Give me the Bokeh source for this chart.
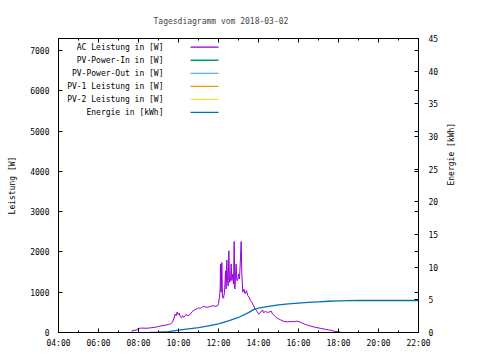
import math
import pandas as pd
from bokeh.plotting import figure
from bokeh.models import (Range1d, LinearAxis, FixedTicker, DatetimeTickFormatter,
                          Label, Title, DatetimeAxis, CustomJSTickFormatter)
from bokeh.embed import file_html
from bokeh.resources import INLINE

DAY = "2018-03-02"
TITLE = "Tagesdiagramm vom 2018-03-02"

power_times = ["07:40", "07:42", "07:55", "07:58", "08:10", "08:25", "08:40", "08:50",
               "09:00", "09:10", "09:20", "09:30", "09:36", "09:42", "09:46", "09:50",
               "09:53", "09:56", "09:59", "10:02", "10:05", "10:09", "10:12", "10:15",
               "10:19", "10:22", "10:28", "10:34", "10:40", "10:44", "10:50", "10:56",
               "11:00", "11:06", "11:12", "11:16", "11:22", "11:28", "11:34", "11:40",
               "11:46", "11:52", "11:58", "12:00", "12:03", "12:05", "12:06", "12:08",
               "12:10", "12:12", "12:15", "12:18", "12:21", "12:23", "12:25", "12:27",
               "12:29", "12:31", "12:33", "12:36", "12:38", "12:40", "12:43", "12:45",
               "12:47", "12:49", "12:51", "12:53", "12:55", "12:58", "13:00", "13:03",
               "13:06", "13:08", "13:10", "13:13", "13:16", "13:20", "13:24", "13:28",
               "13:32", "13:36", "13:40", "13:45", "13:50", "13:56", "14:00", "14:06",
               "14:12", "14:15", "14:21", "14:27", "14:33", "14:38", "14:42", "14:48",
               "14:54", "15:00", "15:06", "15:15", "15:25", "15:35", "15:45", "15:55",
               "16:03", "16:12", "16:20", "16:30", "16:40", "16:50", "17:05", "17:20",
               "17:30", "17:40", "17:50", "18:00", "18:05", "18:07"]
power_w = [0, 50, 60, 100, 110, 105, 120, 130,
           150, 165, 180, 200, 215, 255, 340, 460,
           420, 510, 445, 480, 400, 365, 420, 380,
           400, 445, 420, 440, 510, 540, 570, 590,
           610, 600, 640, 650, 630, 625, 645, 660,
           660, 650, 670, 720, 880, 1080, 1700, 1000,
           1740, 875, 850, 1000, 1530, 1080, 1800, 1290,
           1150, 2030, 1245, 1300, 1700, 1290, 1450, 1200,
           2260, 1080, 1400, 1700, 1290, 1300, 1455, 1330,
           1865, 2260, 1455, 1000, 1080, 960, 1040, 915,
           875, 790, 750, 670, 585, 520, 460, 495,
           560, 495, 520, 500, 510, 530, 460, 420,
           365, 340, 315, 280, 265, 270, 270, 280,
           265, 230, 200, 175, 150, 130, 105, 80,
           65, 50, 25, 20, 10, 0]

energy_times = ["08:35", "09:00", "09:30", "10:00", "10:30", "11:00", "11:30", "12:00",
                "12:30", "13:00", "13:30", "13:45", "14:00", "14:30", "15:00", "15:30",
                "16:00", "16:30", "17:00", "17:30", "18:00", "18:30", "19:00", "22:00"]
energy_kwh = [0.0, 0.05, 0.12, 0.35, 0.55, 0.75, 1.0, 1.32,
              1.78, 2.3, 3.05, 3.5, 3.72, 4.0, 4.22, 4.38,
              4.5, 4.62, 4.7, 4.78, 4.84, 4.88, 4.9, 4.9]

x_tick_labels = ["04:00", "06:00", "08:00", "10:00", "12:00", "14:00", "16:00", "18:00", "20:00", "22:00"]
x_minor_labels = ["%02d:00" % h for h in range(4, 23)]
y_ticks = [0, 1000, 2000, 3000, 4000, 5000, 6000, 7000]
y2_ticks = [0, 5, 10, 15, 20, 25, 30, 35, 40, 45]
Y_MAX = 7300
Y2_MAX = 45

legend_labels = ["AC Leistung in [W]", "PV-Power-In in [W]", "PV-Power-Out in [W]",
                 "PV-1 Leistung in [W]", "PV-2 Leistung in [W]", "Energie in [kWh]"]
legend_colors = ["#9400d3", "#009e73", "#56b4e9", "#e69f00", "#f0e442", "#0072b2"]


def ts(t):
    return pd.Timestamp(DAY + " " + t)


def ms(t):
    return ts(t).value // 10**6


px_t = [ts(t) for t in power_times]
en_t = [ts(t) for t in energy_times]

FONT = "DejaVu Sans Mono"
FS = "8px"

p = figure(width=472, height=352, output_backend="svg", toolbar_location=None,
           x_axis_type="datetime",
           x_range=Range1d(ts("04:00"), ts("22:00")),
           y_range=Range1d(0, Y_MAX),
           min_border_left=58, min_border_right=54, min_border_top=38, min_border_bottom=20)
p.extra_y_ranges = {"energy": Range1d(0, Y2_MAX)}
p.background_fill_color = "white"
p.border_fill_color = "white"
p.outline_line_color = "black"
p.outline_line_width = 1
p.xgrid.visible = False
p.ygrid.visible = False

# title
p.title = Title(text=TITLE, align="left", offset=95, text_font=FONT,
                text_font_size=FS, text_font_style="normal", standoff=25)

# x axis
xt = FixedTicker(ticks=[ms(t) for t in x_tick_labels], minor_ticks=[ms(t) for t in x_minor_labels])
fmt = DatetimeTickFormatter(hours="%H:%M", hourmin="%H:%M", minutes="%H:%M", days="%H:%M",
                            minsec="%H:%M", seconds="%H:%M", milliseconds="%H:%M",
                            microseconds="%H:%M", months="%H:%M", years="%H:%M")
blank = CustomJSTickFormatter(code="return '';")
xa = p.xaxis[0]
xa.ticker = xt
xa.formatter = fmt


def style_axis(a):
    a.axis_line_color = "black"
    a.major_tick_in = 4
    a.major_tick_out = 0
    a.minor_tick_in = 2
    a.minor_tick_out = 0
    a.major_tick_line_color = "black"
    a.minor_tick_line_color = "black"
    a.major_label_text_font = FONT
    a.major_label_text_font_size = FS
    a.major_label_text_color = "black"
    a.axis_label_text_font = FONT
    a.axis_label_text_font_size = FS
    a.axis_label_text_font_style = "normal"
    a.axis_label_text_color = "black"


style_axis(xa)
xa.major_label_standoff = 6

ya = p.yaxis[0]
ya.ticker = FixedTicker(ticks=y_ticks, minor_ticks=[])
style_axis(ya)
ya.axis_label = "Leistung [W]"
ya.major_label_standoff = 9
ya.axis_label_standoff = 10

# mirrored ticks (no labels)
top = DatetimeAxis(ticker=xt, formatter=blank)
style_axis(top)
top.major_label_standoff = 0
p.add_layout(top, "above")

rmir = LinearAxis(ticker=FixedTicker(ticks=y_ticks, minor_ticks=[]), formatter=blank)
style_axis(rmir)
rmir.major_label_standoff = 0
p.add_layout(rmir, "right")

y2 = LinearAxis(y_range_name="energy", ticker=FixedTicker(ticks=y2_ticks, minor_ticks=[]),
                axis_label="Energie [kWh]")
style_axis(y2)
y2.major_label_standoff = 10
y2.axis_label_standoff = 10
if "axis_label_orientation" in y2.properties():
    y2.axis_label_orientation = math.pi / 2
p.add_layout(y2, "right")

# data
p.line(px_t, power_w, line_color=legend_colors[0], line_width=1)
p.line(en_t, energy_kwh, line_color=legend_colors[5], line_width=1.3, y_range_name="energy")

# helpers: frame pixel offsets -> data units (for key placement)
FW, FH = 360.0, 294.0
x0, x1 = ms("04:00"), ms("22:00")


def dx(px):
    return x0 + px / FW * (x1 - x0)


def dy(py):
    return Y_MAX - py / FH * Y_MAX


# manual gnuplot-style key (text right-aligned, sample line to the right)
for i, (lab, col) in enumerate(zip(legend_labels, legend_colors)):
    yy = dy(8.7 + 13.05 * i)
    p.add_layout(Label(x=dx(105), y=yy, text=lab, text_align="right", text_baseline="middle",
                       text_font=FONT, text_font_size=FS, text_color="black"))
    p.segment(x0=[dx(132)], y0=[yy], x1=[dx(160)], y1=[yy], line_color=col, line_width=1.3)

open("out.html", "w").write(file_html(p, INLINE))
